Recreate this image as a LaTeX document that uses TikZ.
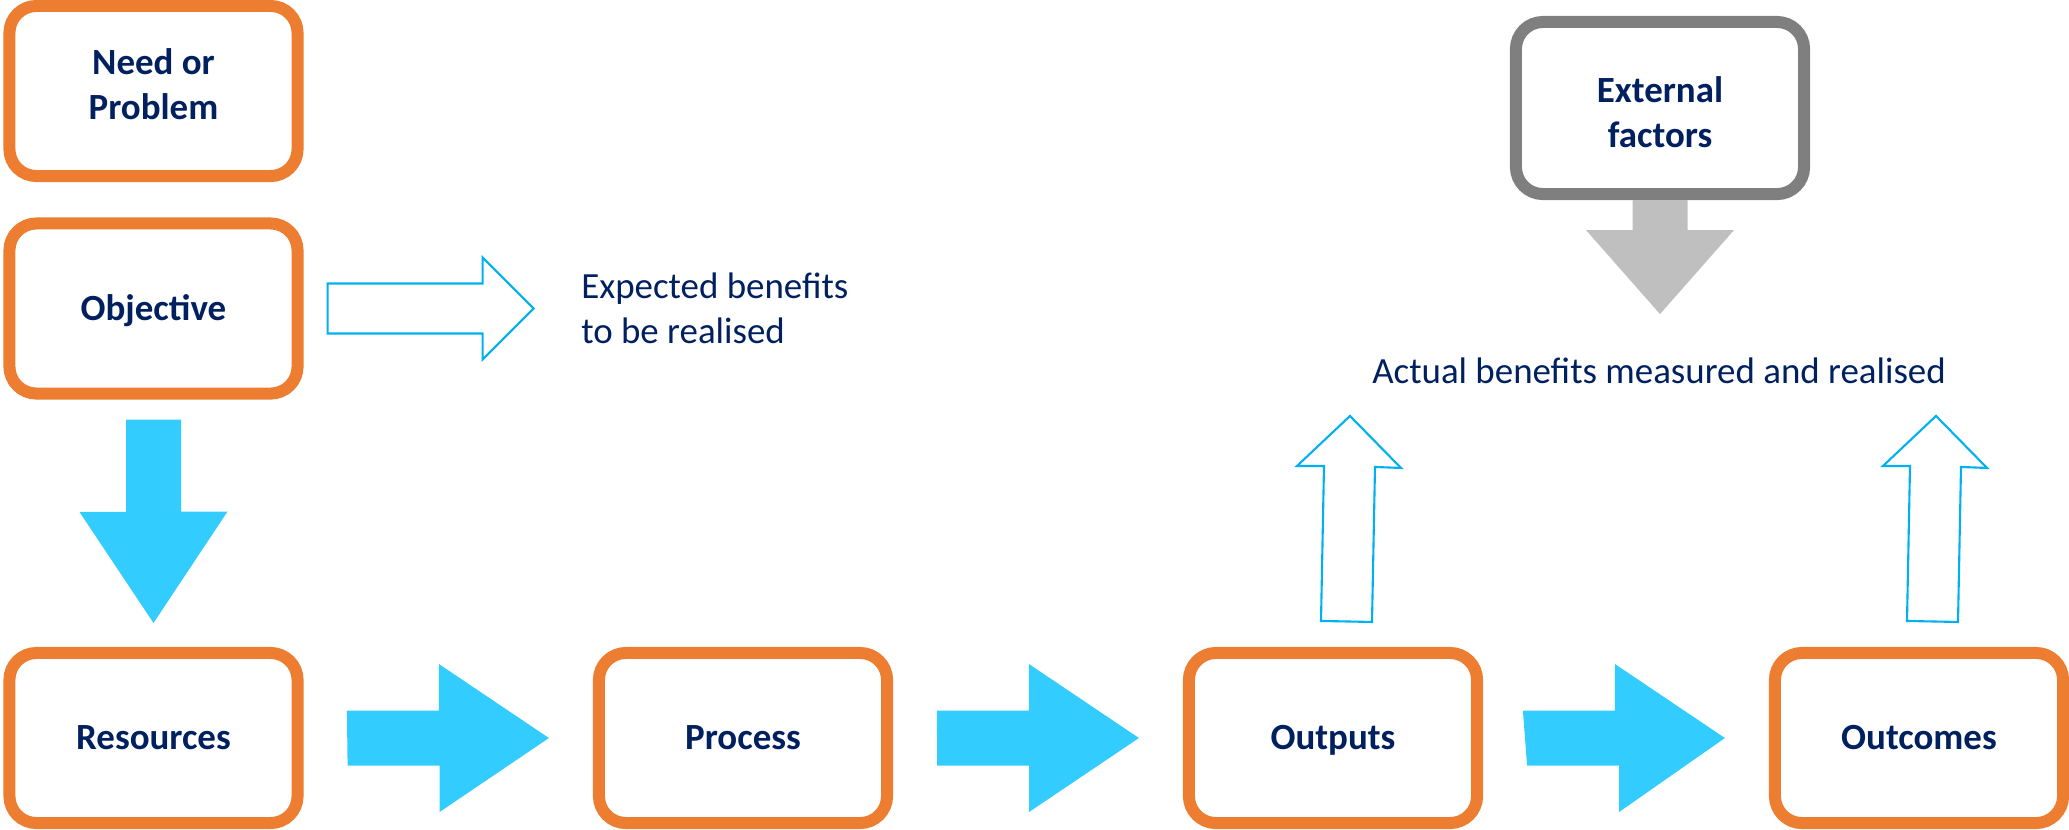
\documentclass[tikz,border=0pt]{standalone}
\usepackage{fontspec}
\setmainfont{Carlito}
\usepackage{tikz}
\usetikzlibrary{calc}

\definecolor{orng}{HTML}{ED7D31}
\definecolor{navy}{HTML}{002060}
\definecolor{sky}{HTML}{33CCFF}
\definecolor{cyanline}{HTML}{00B0F0}
\definecolor{darkgris}{HTML}{7F7F7F}
\definecolor{lightgris}{HTML}{BFBFBF}

% filled arrow between two boxes of the bottom row
\newcommand{\rightblock}[2]{%
  \fill[fat] ($(#1.east)+(44,27.5)$) -- ++(92,0) -- ++(0,46.5) -- ($(#2.west)+(-44,0)$)
    -- ++(-110,-74) -- ++(0,46.5) -- ++(-92,0) -- cycle;}
% outlined arrow going up from a box
\newcommand{\upblock}[1]{%
  \draw[hollow] ($(#1.north)+(-12,-26)$) -- ++(51,1) -- ++(3,-155) -- ++(26,1)
    -- ++(-51,-52) -- ++(-53,50) -- ++(27,0) -- cycle;}

\begin{document}
\begin{tikzpicture}[
            x=0.01cm, y=-0.01cm,
            box/.style={draw=orng, line width=0.12cm, rounded corners=0.27cm, fill=white,
                minimum width=2.88cm, minimum height=1.7cm, align=center, text=navy,
                text height=0.66em, text depth=0pt,
                font=\fontsize{10.5pt}{12.8pt}\selectfont\bfseries},
            twoline/.style={text height=, text depth=},
            ext/.style={box, draw=darkgris, minimum height=1.72cm},
            fat/.style={fill=sky},
            grey/.style={fill=lightgris},
            hollow/.style={draw=cyanline, line width=0.6pt, line join=miter},
            note/.style={text=navy, inner sep=0pt, align=left,
                font=\fontsize{10.5pt}{12.8pt}\selectfont},
        ]
        \useasboundingbox (0,0) rectangle (2069,829);
        % boxes
        \node[box, twoline, text depth=0.14cm] (need) at (153.5,91) {Need or\\Problem};
        \node[box] (obj) at (153.5,308.5) {Objective};
        \node[box] (res) at (153.5,738) {Resources};
        \node[box] (proc) at (743,738) {Process};
        \node[box] (out) at (1333,738) {Outputs};
        \node[box] (outc) at (1919,738) {Outcomes};
        \node[ext, twoline, text height=0.79cm] (extf) at (1660,108) {External\\factors};
        % texts
        \node[note, anchor=west] (expected) at ($(obj.east)+(277,0)$) {Expected benefits\\to be realised};
        \node[note, anchor=base] (actual) at (1659,383) {Actual benefits measured and realised};
        % arrows
        \fill[fat] ($(obj.south)+(-27.5,20)$) -- ++(55,0) -- ++(0,92) -- ++(46.5,0)
            -- ($(res.north)+(0,-24)$) -- ++(-74,-111) -- ++(46.5,0) -- cycle;
        \rightblock{res}{proc}
        \rightblock{proc}{out}
        \rightblock{out}{outc}
        \draw[hollow] ($(obj.east)+(24,-25)$) -- ++(155,0) -- ++(0,-26) -- ++(51,51)
            -- ++(-51,51) -- ++(0,-26) -- ++(-155,0) -- cycle;
        \upblock{out}
        \upblock{outc}
        \fill[grey] ($(extf.south)+(-27.5,0)$) -- ++(55,0) -- ++(0,30) -- ++(46.5,0)
            -- ++(-74,84) -- ++(-74,-84) -- ++(46.5,0) -- cycle;
    \end{tikzpicture}
\end{document}
